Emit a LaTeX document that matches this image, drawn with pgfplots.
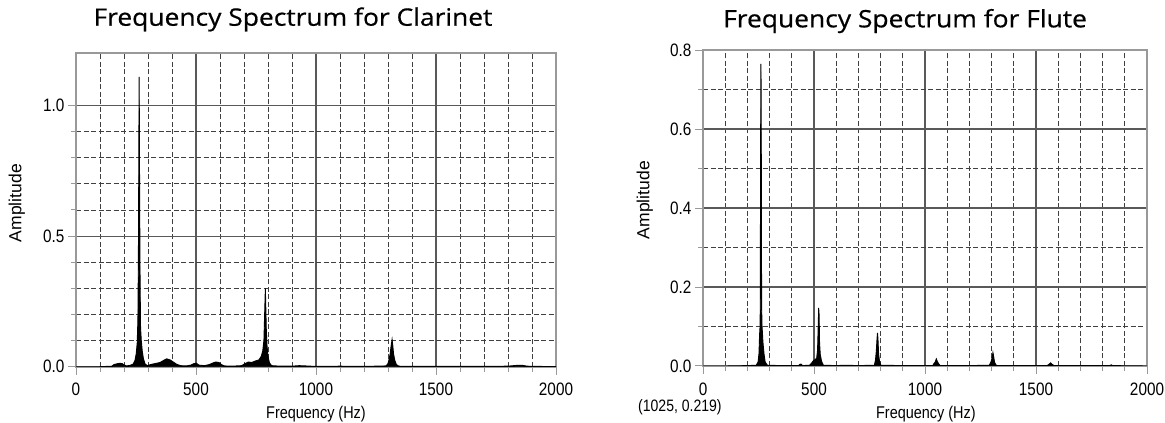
\documentclass[border=0pt]{standalone}
\usepackage{fontspec}
\setmainfont{Liberation Sans}[FakeStretch=0.85]
\newfontfamily\plainfont{Liberation Sans}
\newfontfamily\titlefont{Open Sans}[FakeStretch=1.1, FakeBold=0.6]
\usepackage{pgfplots}
\pgfplotsset{compat=1.18}

\pgfplotsset{
  spec/.style={
    scale only axis,
    clip mode=individual,
    xmin=0, xmax=2000, ymin=0,
    xtick distance=500, minor x tick num=4,
    grid=both,
    major grid style={draw=black!65, line width=1.1bp},
    minor grid style={draw=black!75, line width=0.9bp, dash pattern=on 5bp off 2.5bp},
    axis line style={draw=black!40, line width=1.6bp},
    tick align=outside, tick pos=left,
    major tick length=8bp, minor tick length=5bp,
    tick style={draw=black!40, line width=1bp},
    /pgf/number format/assume math mode=true,
    /pgf/number format/1000 sep={},
    ticklabel style={font=\fontsize{18bp}{20bp}\selectfont},
    xticklabel style={yshift=-5bp},
    label style={font=\fontsize{17bp}{20bp}\selectfont},
    title style={font=\titlefont\fontsize{24bp}{28bp}\selectfont, anchor=base},
    xlabel={Frequency (Hz)}, ylabel={Amplitude},
    y tick label style={/pgf/number format/.cd, fixed, fixed zerofill, precision=1, /tikz/.cd},
    xlabel style={anchor=center},
    ylabel style={anchor=center, font=\plainfont\fontsize{17.5bp}{20bp}\selectfont},
  }
}

\begin{document}
\begin{tikzpicture}
\useasboundingbox (0,0) rectangle (1165bp,423bp);

% clarinet
\begin{axis}[spec,
    at={(76bp,56.3bp)}, anchor=south west,
    width=480bp, height=313.4bp,
    ymax=1.2, ytick={0,0.5,1}, minor y tick num=4,
    title={Frequency Spectrum for Clarinet},
    title style={at={(axis description cs:0.452,1)}, yshift=21.6bp},
    xlabel style={at={(axis description cs:0.5,-0.152)}},
    ylabel style={at={(axis description cs:-0.123,0.522)}},
]
\addplot[black, fill=black, line width=0.9bp] coordinates {
 (0,0) (100,0) (150,0.002) (158,0.008) (170,0.011) (182,0.013) (192,0.012) (200,0.007)
 (210,0.003) (225,0.005) (238,0.01) (246,0.025) (251,0.05) (255,0.09) (258,0.18)
 (260,0.42) (262,0.85) (263,1.11) (264,0.95) (265,0.68) (266,0.5) (267,0.33)
 (269,0.15) (272,0.1) (276,0.06) (281,0.03) (288,0.01) (298,0.004) (310,0.008)
 (330,0.012) (350,0.016) (365,0.024) (378,0.03) (392,0.026) (405,0.018) (418,0.01)
 (435,0.004) (460,0.003) (478,0.006) (492,0.012) (502,0.013) (512,0.006) (535,0.004)
 (555,0.008) (570,0.014) (582,0.018) (596,0.016) (606,0.008) (618,0.003) (650,0.002)
 (690,0.004) (705,0.012) (718,0.018) (732,0.016) (748,0.022) (762,0.026) (772,0.04)
 (778,0.06) (783,0.1) (786,0.2) (789,0.3) (791,0.22) (793,0.14) (796,0.08)
 (800,0.04) (806,0.015) (815,0.004) (850,0.002) (900,0.002) (930,0.004) (955,0.003)
 (1000,0.001) (1100,0.002) (1200,0.001) (1292,0.003) (1300,0.012) (1305,0.03)
 (1309,0.05) (1313,0.08) (1317,0.104) (1320,0.08) (1323,0.05) (1328,0.025)
 (1335,0.008) (1345,0.002) (1400,0.001) (1600,0.001) (1800,0.002) (1835,0.005)
 (1860,0.005) (1880,0.002) (2000,0)
} \closedcycle;
\end{axis}

% flute
\begin{axis}[spec,
    at={(703bp,57bp)}, anchor=south west,
    width=444bp, height=316bp,
    ymax=0.8, ytick={0,0.2,0.4,0.6,0.8}, minor y tick num=1,
    title={Frequency Spectrum for Flute},
    title style={at={(axis description cs:0.455,1)}, yshift=16.7bp},
    xlabel style={at={(axis description cs:0.502,-0.152)}},
    ylabel style={at={(axis description cs:-0.131,0.525)}},
]
\addplot[black, fill=black, line width=0.9bp] coordinates {
 (0,0) (100,0) (200,0.001) (240,0.002) (248,0.01) (252,0.03) (255,0.08) (257,0.1)
 (258,0.15) (259,0.43) (260,0.64) (261,0.765) (262,0.68) (263,0.43) (264,0.15)
 (266,0.1) (270,0.06) (275,0.03) (280,0.01) (290,0.002) (350,0.001) (430,0.001)
 (436,0.004) (442,0.005) (448,0.001) (480,0.002) (490,0.008) (498,0.014) (505,0.016)
 (512,0.02) (516,0.04) (519,0.1) (521,0.147) (523,0.13) (525,0.06) (528,0.03)
 (534,0.012) (542,0.002) (600,0.001) (640,0.002) (700,0.001) (772,0.002) (777,0.015)
 (781,0.04) (784,0.07) (786,0.084) (788,0.07) (791,0.03) (795,0.012) (801,0.002)
 (900,0.001) (1035,0.001) (1040,0.006) (1046,0.01) (1051,0.018) (1055,0.012)
 (1061,0.006) (1068,0.001) (1200,0.001) (1290,0.002) (1297,0.01) (1302,0.02)
 (1306,0.034) (1309,0.025) (1313,0.01) (1319,0.003) (1326,0.001) (1550,0.001)
 (1558,0.004) (1566,0.008) (1573,0.004) (1581,0.001) (1832,0.001) (1839,0.003)
 (1845,0.001) (2000,0)
} \closedcycle;
\node[font=\fontsize{16.5bp}{18bp}\selectfont, inner sep=0pt] at (axis description cs:-0.052,-0.13) {(1025, 0.219)};
\end{axis}
\end{tikzpicture}
\end{document}
